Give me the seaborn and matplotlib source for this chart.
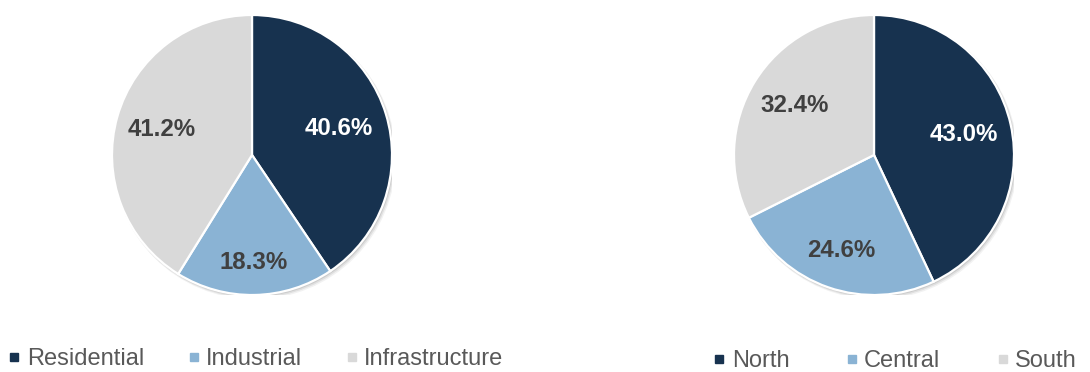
import numpy as np
import matplotlib
matplotlib.use("Agg")
import matplotlib.pyplot as plt
from matplotlib.lines import Line2D
from matplotlib.patches import Circle
import seaborn as sns

# Share by segment
sector_labels = ["Residential", "Industrial", "Infrastructure"]
sector_share = [40.6, 18.3, 41.2]

# Share by region
region_labels = ["North", "Central", "South"]
region_share = [43.0, 24.6, 32.4]

sns.set_theme(style="white")
plt.rcParams["font.family"] = ["Liberation Sans", "DejaVu Sans"]

palette = sns.color_palette(["#17324F", "#8AB3D4", "#D9D9D9"])
text_colors = ["white", "#404040", "#404040"]

W, H = 1090, 372
fig = plt.figure(figsize=(W / 100, H / 100), dpi=100)
fig.patch.set_facecolor("white")


def draw_pie(cx, cy, r, values, label_radius):
    ax = fig.add_axes([(cx - r) / W, (H - cy - r) / H, 2 * r / W, 2 * r / H])
    # soft drop shadow under the pie
    for k, a in zip([0.035, 0.025, 0.015], [0.05, 0.07, 0.09]):
        ax.add_patch(Circle((k * 0.5, -k * 0.6), 1.0 + k * 0.3, color="black",
                            alpha=a, lw=0, zorder=0))
    wedges, _ = ax.pie(values, colors=palette, startangle=90, counterclock=False,
                       radius=1.0,
                       wedgeprops=dict(edgecolor="white", linewidth=1.6, zorder=1))
    for w, v, rad, tc in zip(wedges, values, label_radius, text_colors):
        ang = np.deg2rad((w.theta1 + w.theta2) / 2)
        ax.text(rad * np.cos(ang), rad * np.sin(ang), f"{v:.1f}%",
                ha="center", va="center", fontsize=17.3, fontweight="bold",
                color=tc, zorder=3)
    ax.set_xlim(-1.0, 1.0)
    ax.set_ylim(-1.0, 1.0)
    ax.set_aspect("equal")
    ax.axis("off")
    return ax


draw_pie(252, 155, 140, sector_share, [0.65, 0.77, 0.67])
draw_pie(874, 155, 140, region_share, [0.66, 0.72, 0.67])


def draw_legend(labels, x_left, y_center, spacing):
    handles = [Line2D([0], [0], marker="s", linestyle="none", markersize=6.2,
                      markerfacecolor=c, markeredgecolor=c) for c in palette]
    fig.legend(handles, labels, ncol=3, loc="center left",
               bbox_to_anchor=(x_left / W, 1 - y_center / H),
               frameon=False, fontsize=17, labelcolor="#595959",
               handlelength=0.45, handletextpad=0.3, columnspacing=spacing,
               borderpad=0, borderaxespad=0)


draw_legend(sector_labels, 9, 359, 1.88)
draw_legend(region_labels, 714, 361, 2.42)

fig.savefig("out.png", dpi=100, facecolor="white")
